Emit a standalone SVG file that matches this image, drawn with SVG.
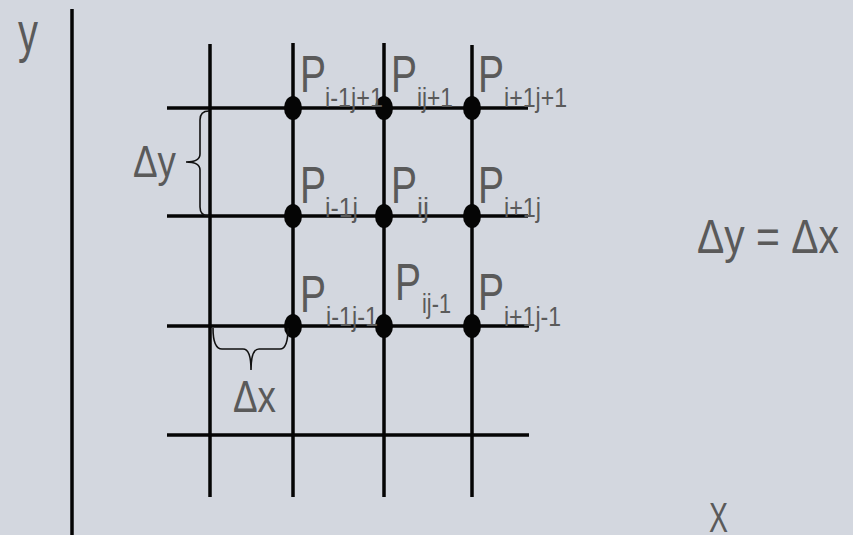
<svg xmlns="http://www.w3.org/2000/svg" width="853" height="535" viewBox="0 0 853 535">
<style>
.g{stroke:#050505;stroke-width:3.5;fill:none}
.b{stroke:#111;stroke-width:1.6;fill:none}
.d{fill:#050505}
text{font-family:"Liberation Sans",Arial,sans-serif;fill:#5a5a5a}
.P{font-size:52px}
.s{font-size:28px}
</style>
<rect width="853" height="535" fill="#d3d7df"/>
<g id="axes">
<line class="g" x1="72" y1="9" x2="72" y2="535" stroke-width="3"/>
<text x="18" y="51" font-size="56" textLength="20" lengthAdjust="spacingAndGlyphs">y</text>
<text x="709" y="532" font-size="42" textLength="19" lengthAdjust="spacingAndGlyphs">X</text>
</g>
<g id="grid">
<line class="g" x1="210" y1="44" x2="210" y2="497"/>
<line class="g" x1="293" y1="43" x2="293" y2="497"/>
<line class="g" x1="384" y1="43" x2="384" y2="497"/>
<line class="g" x1="472" y1="45" x2="472" y2="497"/>
<line class="g" x1="167" y1="108" x2="528" y2="108"/>
<line class="g" x1="167" y1="216" x2="528" y2="216"/>
<line class="g" x1="167" y1="326" x2="529" y2="326"/>
<line class="g" x1="167" y1="435" x2="529" y2="435"/>
</g>
<g id="points">
<ellipse class="d" cx="293" cy="108" rx="9" ry="12"/>
<ellipse class="d" cx="384" cy="108" rx="9" ry="12"/>
<ellipse class="d" cx="472" cy="108" rx="9" ry="12"/>
<ellipse class="d" cx="293" cy="216" rx="9" ry="12"/>
<ellipse class="d" cx="384" cy="216" rx="9" ry="12"/>
<ellipse class="d" cx="472" cy="216" rx="9" ry="12"/>
<ellipse class="d" cx="293" cy="326" rx="9" ry="12"/>
<ellipse class="d" cx="384" cy="326" rx="9" ry="12"/>
<ellipse class="d" cx="472" cy="326" rx="9" ry="12"/>
</g>
<g id="labels">
<text class="P" x="300" y="92" textLength="26" lengthAdjust="spacingAndGlyphs">P</text>
<text class="s" x="325" y="107" textLength="58" lengthAdjust="spacingAndGlyphs">i-1j+1</text>
<text class="P" x="391" y="92" textLength="26" lengthAdjust="spacingAndGlyphs">P</text>
<text class="s" x="417" y="107" textLength="36" lengthAdjust="spacingAndGlyphs">ij+1</text>
<text class="P" x="478" y="92" textLength="26" lengthAdjust="spacingAndGlyphs">P</text>
<text class="s" x="504" y="107" textLength="63" lengthAdjust="spacingAndGlyphs">i+1j+1</text>

<text class="P" x="300" y="203" textLength="26" lengthAdjust="spacingAndGlyphs">P</text>
<text class="s" x="325" y="217" textLength="33" lengthAdjust="spacingAndGlyphs">i-1j</text>
<text class="P" x="391" y="203" textLength="26" lengthAdjust="spacingAndGlyphs">P</text>
<text class="s" x="417" y="217" textLength="12" lengthAdjust="spacingAndGlyphs">ij</text>
<text class="P" x="478" y="203" textLength="26" lengthAdjust="spacingAndGlyphs">P</text>
<text class="s" x="504" y="217" textLength="37" lengthAdjust="spacingAndGlyphs">i+1j</text>

<text class="P" x="300" y="312" textLength="26" lengthAdjust="spacingAndGlyphs">P</text>
<text class="s" x="326" y="326" textLength="52" lengthAdjust="spacingAndGlyphs">i-1j-1</text>
<text class="P" x="395" y="300" textLength="26" lengthAdjust="spacingAndGlyphs">P</text>
<text class="s" x="422" y="313" textLength="29" lengthAdjust="spacingAndGlyphs">ij-1</text>
<text class="P" x="478" y="310" textLength="26" lengthAdjust="spacingAndGlyphs">P</text>
<text class="s" x="504" y="326" textLength="57" lengthAdjust="spacingAndGlyphs">i+1j-1</text>
</g>
<g id="dy">
<path class="b" d="M209,111 Q200,111 200,120 L200,154 Q200,162 186,162 Q200,162 200,170 L200,207 Q200,216 209,216"/>
<text x="133" y="177" font-size="45" textLength="43" lengthAdjust="spacingAndGlyphs">Δy</text>
</g>
<g id="dx">
<path class="b" d="M213,328 Q213,349 222,349 L243,349 Q251,349 251,370 Q251,349 259,349 L280,349 Q288,349 288,328"/>
<text x="233" y="412" font-size="45" textLength="43" lengthAdjust="spacingAndGlyphs">Δx</text>
</g>
<g id="eq">
<text x="697" y="253" font-size="49" textLength="142" lengthAdjust="spacingAndGlyphs">Δy = Δx</text>
</g>
</svg>
